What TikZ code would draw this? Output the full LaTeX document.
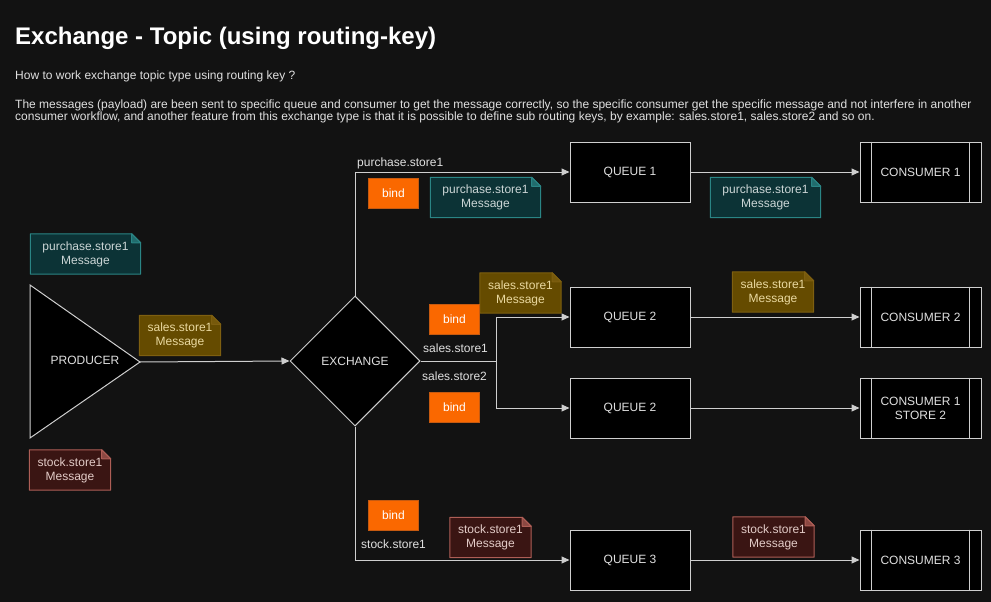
\documentclass[tikz,border=0pt]{standalone}
\usepackage{fontspec}
\setmainfont{Liberation Sans}
\usetikzlibrary{arrows.meta,shapes.geometric}
\pgfdeclarelayer{bg}
\pgfsetlayers{bg,main}
\definecolor{bgc}{HTML}{121212}
\definecolor{linec}{HTML}{CFCFCF}
\definecolor{txt}{HTML}{E0E0E0}
\definecolor{bindc}{HTML}{FA6800}
\definecolor{bindd}{HTML}{C65A10}
\definecolor{tealf}{HTML}{0C3336}
\definecolor{teald}{HTML}{2A8585}
\definecolor{tealt}{HTML}{CCD6D6}
\definecolor{goldf}{HTML}{654B00}
\definecolor{goldd}{HTML}{7E5F10}
\definecolor{goldt}{HTML}{EAD9A0}
\definecolor{redf}{HTML}{3A1513}
\definecolor{redd}{HTML}{AE5E56}
\definecolor{redt}{HTML}{E3CCC8}
\tikzset{
  x=1pt, y=-1pt,
  f12/.style={font=\fontsize{12}{14}\selectfont},
  box/.style={draw=linec, fill=black, line width=1pt, minimum width=120pt, minimum height=60pt, text=txt, f12, inner sep=0pt, align=center},
  bindbox/.style={draw=bindd, fill=bindc, line width=0.8pt, minimum width=50pt, minimum height=30pt, text=white, f12, inner sep=0pt},
  note/.style={minimum height=40pt, inner sep=0pt, align=center, f12},
  conn/.style={draw=linec, line width=1pt, -{Triangle[length=8pt,width=7pt]}},
  lbl/.style={text=txt, f12, inner sep=0pt}
}
\newcommand\notefold[3]{%
  \begin{pgfonlayer}{bg}
  \draw[fill=#2, draw=#3, line width=1pt, line join=round]
    (#1.south west) -- (#1.north west) -- ([xshift=-9pt]#1.north east)
    -- ([yshift=-9pt]#1.north east) -- (#1.south east) -- cycle;
  \draw[draw=#3, line width=1pt, fill=#3!70!#2, line join=round]
    ([xshift=-9pt]#1.north east) -- ([xshift=-9pt,yshift=-9pt]#1.north east) -- ([yshift=-9pt]#1.north east) -- cycle;
  \end{pgfonlayer}}
\begin{document}
\begin{tikzpicture}
\begin{pgfonlayer}{bg}
\fill[bgc] (0,0) rectangle (991,602);
\end{pgfonlayer}
\useasboundingbox (0,0) rectangle (991,602);

% texts
\node[anchor=base west, inner sep=0pt, text=white, font=\fontsize{24}{28}\selectfont\bfseries] (title) at (15,45) {Exchange - Topic (using routing-key)};
\node[anchor=base west, inner sep=0pt, text=txt, font=\fontsize{12}{14}\selectfont] (q) at (15,80) {How to work exchange topic type using routing key ?};
\node[anchor=base west, inner sep=0pt, text=txt, font=\fontsize{12}{14}\selectfont] (p1) at (15,108) {The messages (payload) are been sent to specific queue and consumer to get the message correctly, so the specific consumer get the specific message and not interfere in another};
\node[anchor=base west, inner sep=0pt, text=txt, font=\fontsize{12}{14}\selectfont] (p2) at (15,121) {consumer workflow, and another feature from this exchange type is that it is possible to define sub routing keys, by example: sales.store1, sales.store2 and so on.};

% producer
\coordinate (prodtop) at (30,285);
\coordinate (prodbot) at (30,438);
\coordinate (prodtip) at (140,362);
\draw[draw=linec, fill=black, line width=1pt] (prodtop) -- (prodtip) -- (prodbot) -- cycle;
\node[lbl] (prod) at (85,360) {PRODUCER};

% exchange
\node[diamond, draw=linec, fill=black, line width=1pt, minimum width=130pt, minimum height=130pt, aspect=1, inner sep=0pt, text=txt, f12] (ex) at (355,361) {EXCHANGE};
\coordinate (j) at (496,361);

% queues
\node[box] (q1) at (630,172) {QUEUE 1};
\node[box] (q2) at (630,317) {QUEUE 2};
\node[box] (q2b) at (630,408) {QUEUE 2};
\node[box] (q3) at (630,560) {QUEUE 3};

% consumers
\foreach \n/\y/\t in {c1/172/{CONSUMER 1}, c2/317/{CONSUMER 2}, c3/408/{CONSUMER 1\\STORE 2}, c4/560/{CONSUMER 3}}{
  \node[box, minimum width=121pt] (\n) at (920.5,\y) {\t};
  \draw[linec, line width=1pt] ([xshift=12pt]\n.north west) -- ([xshift=12pt]\n.south west);
  \draw[linec, line width=1pt] ([xshift=-12pt]\n.north east) -- ([xshift=-12pt]\n.south east);
}

% connectors
\draw[conn] (prodtip) -- (ex.west);
\draw[conn] (ex.north) |- (q1.west);
\draw[draw=linec, line width=1pt] (ex.east) -- (j);
\draw[conn] (j) |- (q2.west);
\draw[conn] (j) |- (q2b.west);
\draw[conn] (ex.south) |- (q3.west);
\draw[conn] (q1.east) -- (c1.west);
\draw[conn] (q2.east) -- (c2.west);
\draw[conn] (q2b.east) -- (c3.west);
\draw[conn] (q3.east) -- (c4.west);

% routing labels
\node[lbl, anchor=base west] (l1) at (357,166) {purchase.store1};
\node[lbl, anchor=base west] (l2) at (423,352) {sales.store1};
\node[lbl, anchor=base west] (l3) at (422,380) {sales.store2};
\node[lbl, anchor=base west] (l4) at (361,548) {stock.store1};

% binds
\node[bindbox] (b1) at (393.5,193.5) {bind};
\node[bindbox] (b2) at (454.5,319.5) {bind};
\node[bindbox] (b3) at (454.5,407) {bind};
\node[bindbox] (b4) at (393.5,515.5) {bind};

% notes
\node[note, minimum width=110pt, text=tealt] (n1) at (85.5,254) {purchase.store1\\Message};
\notefold{n1}{tealf}{teald}
\node[note, minimum width=81pt, text=goldt] (n2) at (180,335.5) {sales.store1\\Message};
\notefold{n2}{goldf}{goldd}
\node[note, minimum width=81pt, text=redt] (n3) at (70,470) {stock.store1\\Message};
\notefold{n3}{redf}{redd}
\node[note, minimum width=110pt, text=tealt] (n4) at (485.5,197.5) {purchase.store1\\Message};
\notefold{n4}{tealf}{teald}
\node[note, minimum width=81pt, text=goldt] (n5) at (520.5,293) {sales.store1\\Message};
\notefold{n5}{goldf}{goldd}
\node[note, minimum width=81pt, text=redt] (n6) at (490.5,537.5) {stock.store1\\Message};
\notefold{n6}{redf}{redd}
\node[note, minimum width=110pt, text=tealt] (n7) at (765.5,197.5) {purchase.store1\\Message};
\notefold{n7}{tealf}{teald}
\node[note, minimum width=81pt, text=goldt] (n8) at (773,292) {sales.store1\\Message};
\notefold{n8}{goldf}{goldd}
\node[note, minimum width=81pt, text=redt] (n9) at (773.5,537) {stock.store1\\Message};
\notefold{n9}{redf}{redd}
\end{tikzpicture}
\end{document}
